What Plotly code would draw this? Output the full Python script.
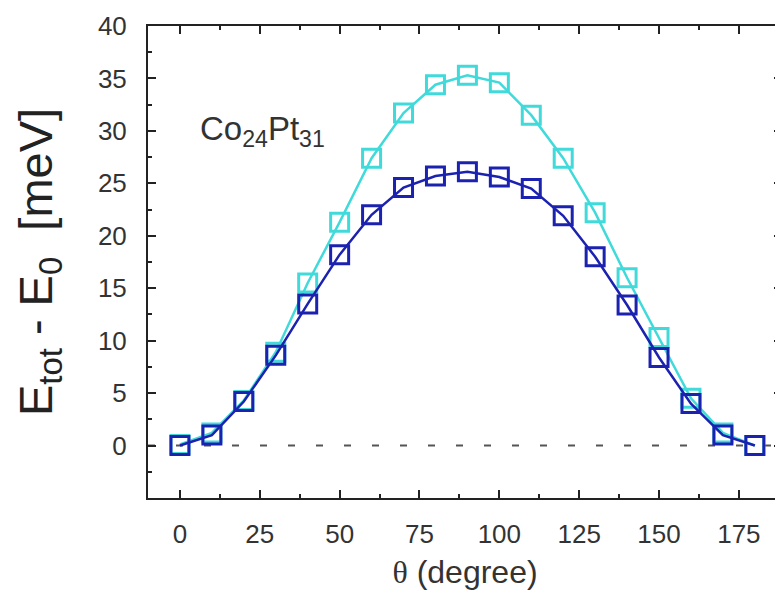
import plotly.graph_objects as go

theta = [0, 10, 20, 30, 40, 50, 60, 70, 80, 90, 100, 110, 120, 130, 140, 150, 160, 170, 180]
e_cyan = [0.1, 1.2, 4.3, 8.9, 15.5, 21.3, 27.4, 31.7, 34.4, 35.3, 34.6, 31.5, 27.4, 22.2, 16.0, 10.3, 4.5, 1.2, 0.0]
e_blue = [0.0, 1.0, 4.2, 8.6, 13.5, 18.2, 22.0, 24.6, 25.7, 26.1, 25.6, 24.5, 21.9, 18.0, 13.4, 8.4, 4.0, 1.0, 0.0]
x_ticks = [0, 25, 50, 75, 100, 125, 150, 175]
y_ticks = [0, 5, 10, 15, 20, 25, 30, 35, 40]

cyan = "#40dada"
blue = "#1c22b0"
txt = "#333333"
font_fam = "Liberation Sans, Arial"

fig = go.Figure()
fig.add_shape(type="line", xref="paper", x0=0, x1=1, yref="y", y0=0, y1=0,
              line=dict(color="#555555", width=2, dash="7px,21px"), layer="below")
for ys, col in [(e_cyan, cyan), (e_blue, blue)]:
    fig.add_trace(go.Scatter(
        x=theta, y=ys, mode="lines+markers",
        line=dict(color=col, width=2.5),
        marker=dict(symbol="square-open", size=18, color=col, line=dict(color=col, width=3)),
        showlegend=False))

fig.add_annotation(x=5.5, y=30, xref="x", yref="y", xanchor="left", yanchor="middle",
                   text="Co<sub>24</sub>Pt<sub>31</sub>", showarrow=False,
                   font=dict(size=33, color=txt, family=font_fam))

axis_common = dict(showline=True, linecolor="#222222", linewidth=2, mirror="ticks",
                   ticks="inside", ticklen=8, tickwidth=2, tickcolor="#222222",
                   showgrid=False, zeroline=False, automargin=False,
                   tickfont=dict(size=26, color=txt, family=font_fam))

fig.update_xaxes(range=[-10, 188.5], tickvals=x_ticks, ticktext=[str(v) for v in x_ticks],
                 ticklabelstandoff=12,
                 minor=dict(tickmode="linear", tick0=0, dtick=12.5, ticks="inside", ticklen=4,
                            tickwidth=2, tickcolor="#222222", showgrid=False),
                 title=dict(text="<span style='font-family:Liberation Serif'>θ</span> (degree)",
                            font=dict(size=32, color=txt, family=font_fam), standoff=12),
                 **axis_common)
fig.update_yaxes(range=[-5, 40], tickvals=y_ticks, ticktext=[str(v) for v in y_ticks],
                 ticklabelstandoff=14,
                 minor=dict(tickmode="linear", tick0=0, dtick=2.5, ticks="inside", ticklen=4,
                            tickwidth=2, tickcolor="#222222", showgrid=False),
                 title=dict(text="E<sub>tot</sub> - E<sub>0</sub>  [meV]",
                            font=dict(size=47, color="#222222", family=font_fam), standoff=30),
                 **axis_common)

fig.update_layout(width=783, height=598, margin=dict(l=140, r=9, t=18, b=108),
                  paper_bgcolor="white", plot_bgcolor="white")
fig.write_html("out.html")
